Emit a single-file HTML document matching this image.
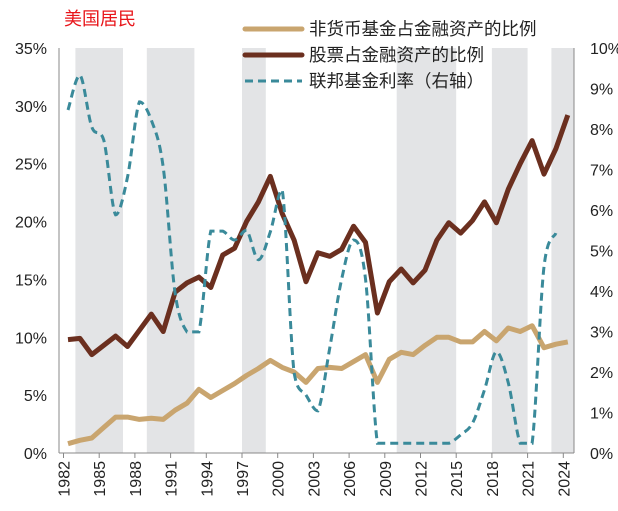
<!DOCTYPE html>
<html><head><meta charset="utf-8"><style>
html,body{margin:0;padding:0;background:#fff;}
svg{display:block;font-family:"Liberation Sans","Noto Sans CJK SC",sans-serif;}
</style></head><body>
<svg id="chart" width="618" height="511" viewBox="0 0 618 511" xmlns="http://www.w3.org/2000/svg">
<g id="shade"></g><g id="axes"></g><g id="series"></g>
<text x="64" y="25" font-size="18" fill="#e8161b">美国居民</text>
<g>
<line x1="245" y1="29" x2="302" y2="29" stroke="#c9a56f" stroke-width="5" stroke-linecap="round"/>
<text x="309" y="35" font-size="17.5" fill="#222">非货币基金占金融资产的比例</text>
<line x1="245" y1="55" x2="302" y2="55" stroke="#6b2f1f" stroke-width="5" stroke-linecap="round"/>
<text x="309" y="61" font-size="17.5" fill="#222">股票占金融资产的比例</text>
<line x1="245" y1="81" x2="302" y2="81" stroke="#3a8a9a" stroke-width="3" stroke-dasharray="8,5"/>
<text x="309" y="87" font-size="17.5" fill="#222">联邦基金利率（右轴）</text>
</g>
</svg>
<script>
const years=[];for(let y=1982;y<=2024;y++)years.push(y);
const stockShare=[9.8,9.9,8.5,9.3,10.1,9.2,10.6,12.0,10.5,13.9,14.7,15.2,14.3,17.1,17.7,20.0,21.7,23.9,20.7,18.4,14.8,17.3,17.0,17.6,19.6,18.2,12.1,14.8,15.9,14.7,15.8,18.4,19.9,19.0,20.1,21.7,19.9,22.8,25.0,27.0,24.1,26.3,29.2];
const fundShare=[0.8,1.1,1.3,2.2,3.1,3.1,2.9,3.0,2.9,3.7,4.3,5.5,4.8,5.4,6.0,6.7,7.3,8.0,7.4,7.0,6.1,7.3,7.4,7.3,7.9,8.5,6.1,8.1,8.7,8.5,9.3,10.0,10.0,9.6,9.6,10.5,9.7,10.8,10.5,11.0,9.1,9.4,9.6];
const fedYears=[];for(let y=1982;y<=2023;y++)fedYears.push(y);
const fedRate=[8.47,9.33,8.05,7.73,5.88,6.81,8.67,8.22,7.06,3.95,2.99,2.99,5.48,5.48,5.26,5.5,4.77,5.46,6.5,1.98,1.43,1.04,2.6,4.3,5.26,4.3,0.24,0.24,0.24,0.24,0.24,0.24,0.24,0.45,0.74,1.56,2.5,1.73,0.24,0.24,4.6,5.43];
const shadeRanges=[[1983,1987],[1989,1993],[1997,1999],[2010,2015],[2018,2021],[2023,2024.9]];
const leftTicks=[0,5,10,15,20,25,30,35];
const rightTicks=[0,1,2,3,4,5,6,7,8,9,10];
const xTicks=[1982,1985,1988,1991,1994,1997,2000,2003,2006,2009,2012,2015,2018,2021,2024];

const NS="http://www.w3.org/2000/svg";
const X0=59,X1=574,Y0=453,Y1=48;
const xp=y=>68+(y-1982)*11.9;
const xt=y=>xp(y)-4.5;
const yl=v=>Y0-(v/35)*(Y0-Y1);
const yr=v=>Y0-(v/10)*(Y0-Y1);
function el(t,a,p){const e=document.createElementNS(NS,t);for(const k in a)e.setAttribute(k,a[k]);p.appendChild(e);return e;}
const shade=document.getElementById('shade'),axes=document.getElementById('axes'),series=document.getElementById('series');
shadeRanges.forEach((r,i)=>{const a=xt(r[0]),b=Math.min(xt(r[1]),X1);
const e=el('rect',{x:a,y:Y1,width:b-a,height:Y0-Y1,fill:'#e3e4e6'},shade);

});
let e=el('line',{x1:X0,y1:Y1,x2:X0,y2:Y0,stroke:'#888','stroke-width':1},axes);

e=el('line',{x1:X1,y1:Y1,x2:X1,y2:Y0,stroke:'#888','stroke-width':1},axes);

e=el('line',{x1:X0,y1:Y0,x2:X1,y2:Y0,stroke:'#888','stroke-width':1},axes);

leftTicks.forEach(v=>{const t=el('text',{x:47,y:yl(v)+6,'font-size':16,'text-anchor':'end',fill:'#222'},axes);t.textContent=v+'%';
});
rightTicks.forEach(v=>{const t=el('text',{x:590,y:yr(v)+6,'font-size':16,fill:'#222'},axes);t.textContent=v+'%';
});
xTicks.forEach(y=>{const x=xt(y);
const l=el('line',{x1:x,y1:Y0,x2:x,y2:Y0+5,stroke:'#888'},axes);

const t=el('text',{x:0,y:0,'font-size':16,'text-anchor':'end',fill:'#222',transform:`translate(${x+6},${Y0+8}) rotate(-90)`},axes);t.textContent=y;
});
function poly(xs,vs,f){return xs.map((y,i)=>(i?'L':'M')+xp(y).toFixed(1)+','+f(vs[i]).toFixed(1)).join('');}
function clamp(v,a,b){const lo=Math.min(a,b),hi=Math.max(a,b);return Math.max(lo,Math.min(hi,v));}
function spline(xs,vs,f){const p=xs.map((y,i)=>[xp(y),f(vs[i])]);let d='M'+p[0].join(',');
for(let i=0;i<p.length-1;i++){const p0=p[Math.max(i-1,0)],p1=p[i],p2=p[i+1],p3=p[Math.min(i+2,p.length-1)];
const c1=[p1[0]+(p2[0]-p0[0])/6,clamp(p1[1]+(p2[1]-p0[1])/6,p1[1],p2[1])],c2=[p2[0]-(p3[0]-p1[0])/6,clamp(p2[1]-(p3[1]-p1[1])/6,p1[1],p2[1])];
d+=`C${c1[0].toFixed(1)},${c1[1].toFixed(1)} ${c2[0].toFixed(1)},${c2[1].toFixed(1)} ${p2[0].toFixed(1)},${p2[1].toFixed(1)}`;}return d;}
e=el('path',{d:poly(years,fundShare,yl),fill:'none',stroke:'#c9a56f','stroke-width':5,'stroke-linejoin':'round'},series);

e=el('path',{d:poly(years,stockShare,yl),fill:'none',stroke:'#6b2f1f','stroke-width':5,'stroke-linejoin':'round'},series);

e=el('path',{d:spline(fedYears,fedRate,yr),fill:'none',stroke:'#3a8a9a','stroke-width':3,'stroke-dasharray':'8,5'},series);

</script>
</body></html>
